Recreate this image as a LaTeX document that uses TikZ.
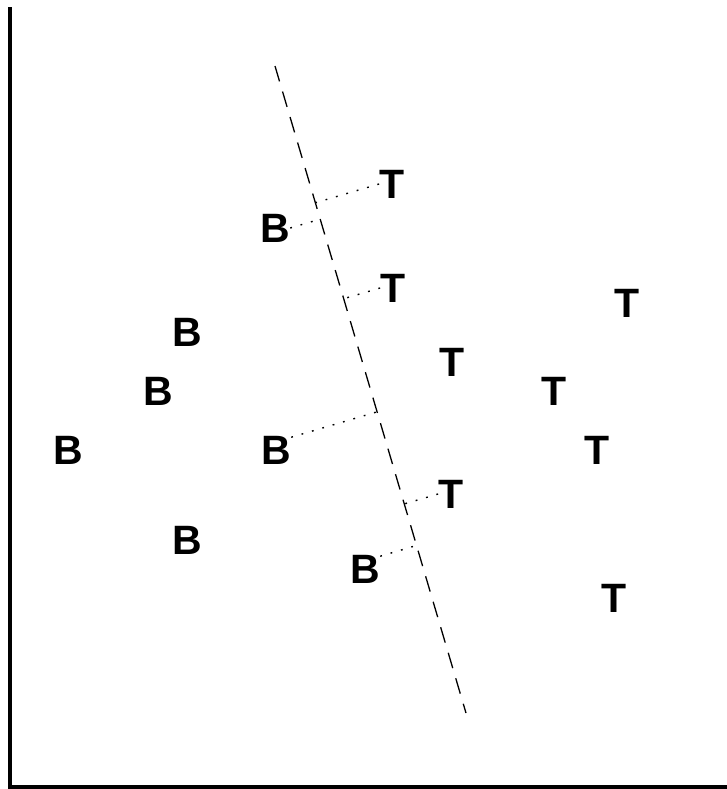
\documentclass[tikz,border=0pt]{standalone}
\usepackage{fontspec}
\setmainfont{Liberation Sans}
\usetikzlibrary{calc}

\tikzset{
	pt/.style={inner sep=0pt, font=\fontsize{20.5}{24}\selectfont\bfseries},
	proj/.style={line width=0.7pt, dash pattern=on 0.9pt off 4.5pt},
}

\begin{document}
\begin{tikzpicture}[x=0.5pt, y=-0.5pt]
\useasboundingbox (0, 0) rectangle (727, 789);

% axes
\draw[line width=1.7pt] (10, 7) -- (10, 787) -- (727, 787);

% separating line
\coordinate (top) at (275, 66);
\coordinate (bot) at (466, 713);
\draw[line width=0.65pt, dash pattern=on 8pt off 5.3pt] (top) -- (bot);

% sample points
\node[pt] (T1) at (392, 184) {T};
\node[pt] (B1) at (275, 228) {B};
\node[pt] (T2) at (393, 288) {T};
\node[pt] (T3) at (627, 303) {T};
\node[pt] (B2) at (187, 332) {B};
\node[pt] (T4) at (452, 362) {T};
\node[pt] (B3) at (158, 391) {B};
\node[pt] (T5) at (554, 391) {T};
\node[pt] (B4) at (68, 450) {B};
\node[pt] (B5) at (276, 450) {B};
\node[pt] (T6) at (597, 450) {T};
\node[pt] (T7) at (451, 494) {T};
\node[pt] (B6) at (187, 540) {B};
\node[pt] (B7) at (365, 569) {B};
\node[pt] (T8) at (614, 598) {T};

% projections onto the line
\foreach \p in {B1.east, T1.west, T2.west, B5.40, T7.west, B7.40}
	\draw[proj] (\p) -- ($(top)!(\p)!(bot)$);

\end{tikzpicture}
\end{document}
